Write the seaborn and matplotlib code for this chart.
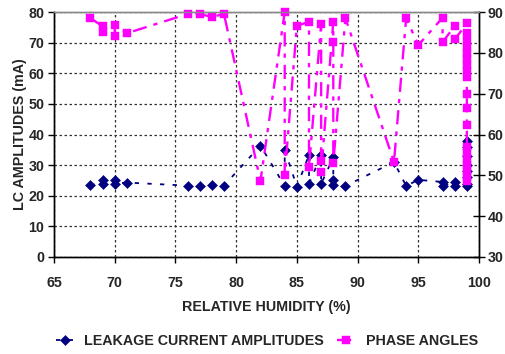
import matplotlib
matplotlib.use('Agg')
import matplotlib.pyplot as plt
import seaborn as sns
import pandas as pd

# Leakage current amplitudes (left axis, mA), in recording order
lc_rh = [68, 69, 69, 70, 70, 71, 76, 77, 78, 79, 82, 84, 84, 85, 86, 86, 87, 87,
         88, 88, 88, 89, 93, 94, 95, 97, 97, 98, 98, 99, 99, 99, 99, 99, 99, 99, 99]
lc_amp = [23.5, 24.0, 25.0, 25.0, 24.0, 24.3, 23.3, 23.2, 23.5, 23.3, 36.4, 23.2, 35.0,
          23.0, 33.3, 23.9, 33.3, 23.9, 32.5, 25.2, 23.5, 23.2, 31.0, 23.2, 25.2,
          24.5, 23.2, 24.5, 23.2, 23.2, 24.0, 26.0, 28.0, 30.0, 33.0, 36.0, 38.0]

# Phase angles (right axis, degrees), in recording order
pa_rh = [68, 69, 69, 70, 70, 71, 76, 77, 78, 79, 82, 84, 84, 85, 86, 86, 87, 87, 87,
         88, 88, 88, 89, 93, 94, 95, 97, 97, 98, 98, 99, 99, 99, 99, 99, 99, 99, 99,
         99, 99, 99, 99, 99, 99, 99, 99, 99, 99, 99]
pa_deg = [88.5, 86.5, 85.0, 84.2, 86.8, 84.8, 89.5, 89.5, 88.8, 89.5, 48.6, 90.0, 50.0,
          86.6, 87.6, 52.1, 87.0, 53.5, 50.9, 87.6, 82.7, 52.9, 88.5, 53.3, 88.5, 81.9,
          88.6, 82.6, 86.6, 83.3, 87.2, 84.8, 83.0, 81.5, 80.0, 78.5, 77.0, 75.5, 74.0,
          70.0, 66.5, 62.3, 57.0, 55.5, 54.0, 52.5, 51.0, 49.7, 48.6]

x_ticks = [65, 70, 75, 80, 85, 90, 95, 100]
left_ticks = [0, 10, 20, 30, 40, 50, 60, 70, 80]
right_ticks = [30, 40, 50, 60, 70, 80, 90]

NAVY = '#000080'
MAGENTA = '#FF00FF'
FS = 10.3

sns.set_style('ticks')
plt.rcParams['font.family'] = ['Liberation Sans', 'DejaVu Sans']
plt.rcParams['font.weight'] = 'bold'
plt.rcParams['font.size'] = FS

fig = plt.figure(figsize=(5.05, 3.54), dpi=100)
fig.patch.set_facecolor('white')
ax = fig.add_axes([54 / 505, 1 - 257 / 354, (479 - 54) / 505, (257 - 12) / 354])
ax2 = ax.twinx()

lc_df = pd.DataFrame({'rh': lc_rh, 'amp': lc_amp})
pa_df = pd.DataFrame({'rh': pa_rh, 'deg': pa_deg})

sns.lineplot(data=lc_df, x='rh', y='amp', ax=ax, sort=False, estimator=None,
             color=NAVY, linewidth=1.3, marker='D', markersize=4.6,
             markeredgecolor=NAVY, markerfacecolor=NAVY, markeredgewidth=0.4,
             label='LEAKAGE CURRENT AMPLITUDES', legend=False)
ln1 = ax.get_lines()[-1]
ln1.set_linestyle((0, (2.4, 4.6)))

sns.lineplot(data=pa_df, x='rh', y='deg', ax=ax2, sort=False, estimator=None,
             color=MAGENTA, linewidth=1.7, marker='s', markersize=5.6,
             markeredgecolor=MAGENTA, markerfacecolor=MAGENTA, markeredgewidth=0.3,
             label='PHASE ANGLES', legend=False, clip_on=False)
ln2 = ax2.get_lines()[-1]
ln2.set_linestyle((0, (6, 3, 1.8, 3)))

ax.set_xlim(65, 100)
ax.set_ylim(0, 80)
ax2.set_ylim(30, 90)
ax.set_xticks(x_ticks)
ax.set_yticks(left_ticks)
ax2.set_yticks(right_ticks)

ax.grid(True, which='major', color='#333333', linestyle=(0, (2, 2)), linewidth=0.9)
ax2.grid(False)
ax.set_axisbelow(True)

ax.set_xlabel('RELATIVE HUMIDITY (%)', fontsize=FS, fontweight='bold', labelpad=7)
ax.set_ylabel('LC AMPLITUDES (mA)', fontsize=FS, fontweight='bold', labelpad=1)
ax2.set_ylabel('')

ax.tick_params(axis='x', direction='out', length=4, width=1, pad=10, labelsize=FS, color='black')
ax.tick_params(axis='y', direction='out', length=4, width=1, pad=3, labelsize=FS, color='black')
ax2.tick_params(axis='y', direction='inout', length=8, width=1, pad=2, labelsize=FS, color='black')
for lbl in ax.get_xticklabels() + ax.get_yticklabels() + ax2.get_yticklabels():
    lbl.set_fontweight('bold')

for a in (ax, ax2):
    a.spines['left'].set_color('black')
    a.spines['bottom'].set_color('black')
    a.spines['right'].set_color('black')
    a.spines['top'].set_color('#888888')
    for s in a.spines.values():
        s.set_linewidth(1)
ax.set_zorder(0)
ax2.set_zorder(1)
ax2.patch.set_visible(False)

handles = [ln1, ln2]
labels = ['LEAKAGE CURRENT AMPLITUDES', 'PHASE ANGLES']
leg = fig.legend(handles, labels, loc='center', bbox_to_anchor=(0.528, 0.038), ncol=2,
                 frameon=False, handlelength=1.3, handletextpad=0.7, columnspacing=0.9,
                 prop={'weight': 'bold', 'size': FS})

fig.savefig('out.png', dpi=100, facecolor='white')
